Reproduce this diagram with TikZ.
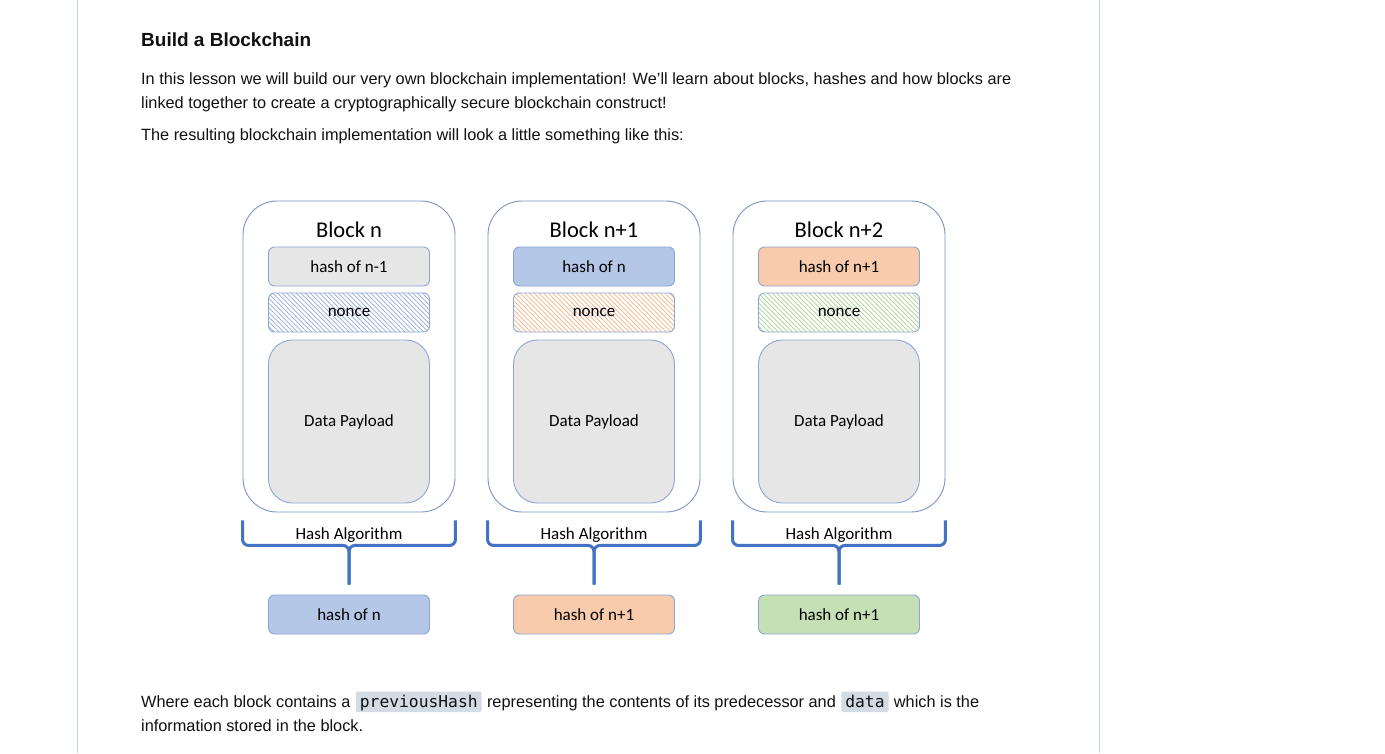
\documentclass[tikz,border=0pt]{standalone}
\usepackage{fontspec}
\setmainfont{Liberation Sans}
\setmonofont{DejaVu Sans Mono}
\newfontfamily\blkfont{Carlito}
\usetikzlibrary{patterns.meta,calc}
\definecolor{pageline}{HTML}{C3D4E6}
\definecolor{outerc}{HTML}{7C93C4}
\definecolor{innerc}{HTML}{8EA5D2}
\definecolor{grayf}{HTML}{E6E6E6}
\definecolor{bluef}{HTML}{B4C7E7}
\definecolor{orangef}{HTML}{F8CBAD}
\definecolor{greenf}{HTML}{C5E0B4}
\definecolor{bluep}{HTML}{8FAADC}
\definecolor{orangep}{HTML}{F4B183}
\definecolor{greenp}{HTML}{A9D18E}
\definecolor{bracec}{HTML}{4472C4}
\definecolor{codebg}{HTML}{D3DCE5}
\definecolor{txt}{HTML}{111111}
\tikzset{
  body/.style={anchor=base west, inner sep=0pt, text=txt, font=\fontsize{16.3}{19}\selectfont},
  outerbox/.style={draw=outerc, line width=0.9pt, rounded corners=34pt, minimum width=212pt, minimum height=311pt, fill=white},
  smallbox/.style={draw=innerc, line width=0.9pt, rounded corners=6pt, minimum width=161pt, minimum height=39pt, font=\blkfont\fontsize{17}{19}\selectfont, text=black},
  databox/.style={draw=innerc, line width=0.9pt, rounded corners=24pt, minimum width=161pt, minimum height=163pt, fill=grayf, font=\blkfont\fontsize{17}{19}\selectfont, text=black},
  blocktitle/.style={font=\blkfont\fontsize{22.5}{25}\selectfont, text=black, inner sep=0pt},
  hashlabel/.style={font=\blkfont\fontsize{17}{19}\selectfont, text=black, inner sep=0pt},
  brace/.style={draw=bracec, line width=3pt, rounded corners=6pt},
  hatch/.style={pattern={Lines[angle=-45,distance=3.3pt,line width=0.7pt]}, pattern color=#1},
  codebox/.style={anchor=base west, fill=codebg, inner xsep=4pt, inner ysep=0pt, text depth=5pt, text height=15.5pt, rounded corners=1.5pt, font=\ttfamily\fontsize{16.3}{19}\selectfont, text=txt}
}
\begin{document}
\begin{tikzpicture}[x=1pt,y=-1pt]
\useasboundingbox[fill=white] (0,0) rectangle (1385,753);
% page column lines
\draw[pageline, line width=1pt] (77.5,0) coordinate (pl1) -- (77.5,753) coordinate (pl2);
\draw[pageline, line width=1pt] (1099.5,0) coordinate (pr1) -- (1099.5,753) coordinate (pr2);
% heading and text
\node[body, font=\bfseries\fontsize{19}{22}\selectfont] (title) at (141,46) {Build a Blockchain};
\node[body] (p1) at (141,84) {In this lesson we will build our very own blockchain implementation! We'll learn about blocks, hashes and how blocks are};
\node[body] (p2) at (141,108) {linked together to create a cryptographically secure blockchain construct!};
\node[body] (p3) at (141,140) {The resulting blockchain implementation will look a little something like this:};
% blocks
\foreach \i/\ttl/\prev/\prevc/\patc/\outt/\outc in {
  0/Block n/hash of n-1/grayf/bluep/hash of n/bluef,
  1/Block n+1/hash of n/bluef/orangep/hash of n+1/orangef,
  2/Block n+2/hash of n+1/orangef/greenp/hash of n+1/greenf}{
  \pgfmathsetmacro{\xc}{349+245*\i}
  \node[outerbox] (b\i) at (\xc,356.5) {};
  \node[blocktitle] (t\i) at (\xc,230) {\ttl};
  \node[smallbox, fill=\prevc] (h\i) at (\xc,266.5) {\prev};
  \node[smallbox, hatch=\patc] (n\i) at (\xc,312.5) {\raisebox{-1.5pt}{nonce}};
  \node[databox] (d\i) at (\xc,421.5) {Data Payload};
  \node[smallbox, fill=\outc] (o\i) at (\xc,614.5) {\outt};
  \coordinate (la\i) at ([yshift=-8pt]b\i.south west);
  \coordinate (ra\i) at ([yshift=-8pt]b\i.south east);
  \coordinate (m\i) at ([yshift=-33pt]b\i.south);
  \coordinate (s\i) at ([yshift=10pt]o\i.north);
  \draw[brace] (la\i) |- (m\i) -- (s\i);
  \draw[brace] (ra\i) |- (m\i) -- (s\i);
  \node[hashlabel] (ha\i) at ([yshift=-23pt]b\i.south) {Hash Algorithm};
}
% bottom text
\node[body] (q1) at (141,707) {Where each block contains a};
\node[codebox] (c1) at ([xshift=5pt]q1.base east) {previousHash};
\node[body] (q2) at ([xshift=5pt]c1.base east) {representing the contents of its predecessor and};
\node[codebox] (c2) at ([xshift=5pt]q2.base east) {data};
\node[body] (q3) at ([xshift=5pt]c2.base east) {which is the};
\node[body] (q4) at (141,731) {information stored in the block.};
\end{tikzpicture}
\end{document}
